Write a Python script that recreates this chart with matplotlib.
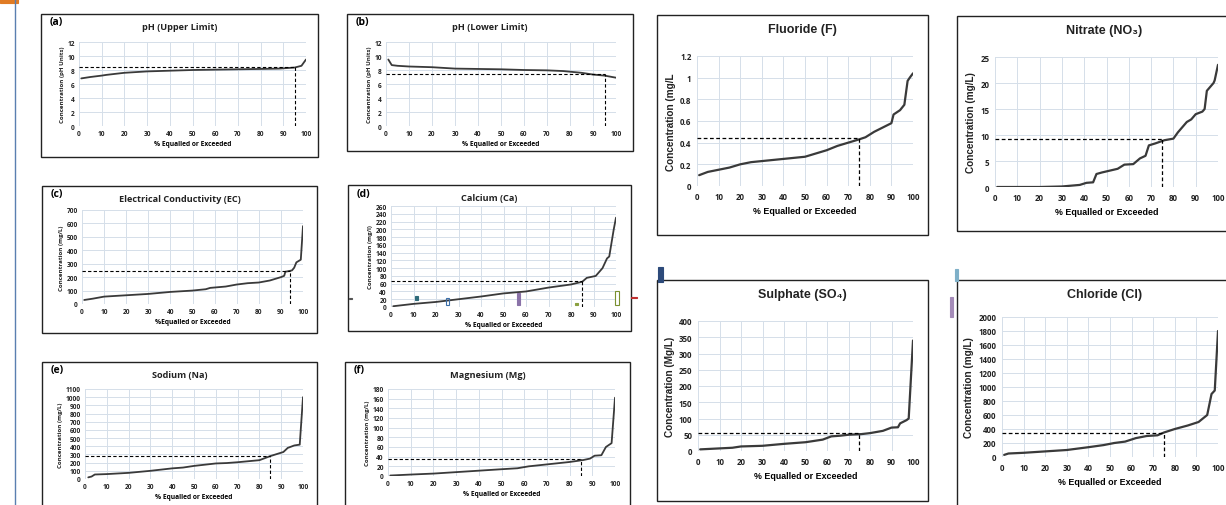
import matplotlib
matplotlib.use("Agg")
import matplotlib.pyplot as plt
from matplotlib.patches import Rectangle

plt.rcParams['font.family'] = ['Open Sans', 'DejaVu Sans']

W, H = 1226, 506

# ---- data: % equalled or exceeded vs concentration ----
ph_up_x = [1, 5, 10, 12, 20, 30, 40, 50, 60, 70, 80, 88, 95, 98, 100]
ph_up_y = [6.8, 7.0, 7.2, 7.3, 7.6, 7.8, 7.9, 8.0, 8.05, 8.1, 8.15, 8.2, 8.35, 8.6, 9.5]

ph_lo_x = [1, 2.5, 5, 10, 20, 30, 40, 50, 60, 70, 77, 85, 90, 95, 100]
ph_lo_y = [9.5, 8.7, 8.6, 8.5, 8.4, 8.2, 8.15, 8.1, 8.0, 7.95, 7.85, 7.6, 7.35, 7.2, 6.9]

ec_x = [1, 5, 10, 20, 30, 40, 50, 56, 58, 65, 70, 75, 80, 85, 90, 91.5, 92, 95, 96, 97, 99, 100]
ec_y = [30, 40, 55, 65, 75, 90, 100, 110, 120, 130, 145, 155, 160, 175, 200, 210, 240, 250, 270, 310, 330, 580]

ca_x = [1, 10, 20, 30, 40, 50, 60, 70, 80, 85, 87, 91, 94, 96, 97, 99, 100]
ca_y = [2, 8, 13, 20, 27, 35, 40, 50, 58, 65, 75, 80, 100, 125, 130, 200, 230]

na_x = [1.5, 3, 4.5, 10, 20, 30, 40, 45, 50, 55, 60, 65, 70, 80, 85, 91, 93, 96, 98.5, 100]
na_y = [20, 30, 55, 60, 75, 100, 130, 140, 160, 175, 190, 195, 205, 230, 280, 330, 380, 410, 420, 1000]

mg_x = [1, 10, 20, 30, 40, 50, 57, 62, 70, 80, 86, 89, 91, 94, 96, 98.5, 100]
mg_y = [1, 3, 5, 8, 11, 14, 16, 20, 24, 29, 33, 36, 42, 43, 60, 68, 162]

f_x = [1, 5, 10, 15, 20, 25, 30, 40, 50, 55, 60, 65, 70, 75, 78, 82, 87, 90, 91, 94, 96, 97.5, 98.5, 100]
f_y = [0.10, 0.13, 0.15, 0.17, 0.20, 0.22, 0.23, 0.25, 0.27, 0.30, 0.33, 0.37, 0.40, 0.43, 0.45, 0.50, 0.55, 0.58,
       0.66, 0.70, 0.75, 0.97, 1.00, 1.04]

no3_x = [1, 20, 30, 38, 41, 44, 45.5, 48, 52, 55, 58, 62, 65, 67.5, 69, 72, 76, 80, 82, 86, 88, 90, 93, 94, 95,
         98, 98.5, 100]
no3_y = [0, 0, 0.1, 0.4, 0.8, 0.9, 2.5, 2.8, 3.2, 3.5, 4.3, 4.4, 5.5, 6.0, 8.0, 8.4, 9.0, 9.3, 10.5, 12.5, 13.0,
         14.0, 14.5, 15.0, 18.5, 20.0, 20.5, 23.5]

so4_x = [1, 10, 16, 20, 30, 40, 50, 58, 62, 66, 70, 76, 80, 86, 90, 93, 94, 97, 98, 100]
so4_y = [5, 8, 10, 14, 16, 22, 27, 35, 45, 47, 50, 52, 55, 62, 72, 73, 85, 95, 100, 340]

cl_x = [1, 3, 10, 20, 30, 40, 47, 52, 57, 62, 67, 72, 75, 80, 86, 91, 93, 95, 97, 98.5, 100]
cl_y = [30, 50, 60, 80, 100, 140, 170, 200, 220, 270, 300, 310, 350, 400, 450, 500, 550, 600, 900, 950, 1800]

# dashed reference (percent, level)
ref_pct = {'a': 95, 'b': 95, 'c': 94, 'd': 85, 'e': 85, 'f': 85, 'F': 75, 'NO3': 75, 'SO4': 75, 'Cl': 75}
ref_val = {'a': 8.5, 'b': 7.4, 'c': 245, 'd': 68, 'e': 280, 'f': 35, 'F': 0.44, 'NO3': 9.2, 'SO4': 55, 'Cl': 350}

fig = plt.figure(figsize=(W / 100, H / 100), dpi=100)


def fx(px):
    return px / W


def fy(py):
    return 1 - py / H


def box(x0, y0, x1, y1, lw=1.0):
    fig.patches.append(Rectangle((fx(x0), fy(y1)), fx(x1 - x0), (y1 - y0) / H, transform=fig.transFigure,
                                 fill=False, edgecolor='#222222', linewidth=lw))


def mark(x0, y0, x1, y1, color, fill=True):
    fig.patches.append(Rectangle((fx(x0), fy(y1)), fx(x1 - x0), (y1 - y0) / H, transform=fig.transFigure,
                                 fill=fill, facecolor=color, edgecolor=color, linewidth=0.8))


def panel(key, pbox, plot, xs, ys, ymax, ystep, title, ylabel, xlabel='% Equalled or Exceeded',
          letter=None, big=False, yfmt=None):
    box(*pbox)
    x0, x1, yt, yb = plot
    ax = fig.add_axes([fx(x0), fy(yb), fx(x1 - x0), (yb - yt) / H])
    ax.plot(xs, ys, color='#3a3a3a', lw=1.6 if big else 1.3, solid_capstyle='round')
    p, v = ref_pct[key], ref_val[key]
    ax.plot([0, p], [v, v], color='black', lw=0.9 if big else 0.8, ls=(0, (3, 2)))
    ax.plot([p, p], [0, v], color='black', lw=0.9 if big else 0.8, ls=(0, (3, 2)))
    ax.set_xlim(0, 100)
    ax.set_ylim(0, ymax)
    ax.set_xticks(range(0, 101, 10))
    yt_vals = [i * ystep for i in range(int(round(ymax / ystep)) + 1)]
    ax.set_yticks(yt_vals)
    if yfmt:
        ax.set_yticklabels([yfmt(t) for t in yt_vals])
    ax.grid(True, color='#d5dfe9', lw=0.7)
    ax.set_axisbelow(True)
    for s in ax.spines.values():
        s.set_visible(False)
    tfs = 5.7 if big else 4.7
    ax.tick_params(length=0, labelsize=tfs, pad=4 if big else 3, colors='#222222')
    for lab in ax.get_xticklabels() + ax.get_yticklabels():
        lab.set_fontweight('bold')
    fam = ['Liberation Sans Narrow', 'Liberation Sans', 'DejaVu Sans'] if big else ['Open Sans', 'DejaVu Sans']
    ax.set_xlabel(xlabel, fontsize=6.4 if big else 4.8, fontweight='bold', family=fam, labelpad=4 if big else 2)
    ax.set_ylabel(ylabel, fontsize=7.2 if big else 4.4, fontweight='bold', family=fam, labelpad=3 if big else 2,
                  color='#222222')
    bx0, by0, bx1, by1 = pbox
    fig.text(fx((bx0 + bx1) / 2 + (10 if big else 0)), fy(by0 + (14 if big else 13)), title,
             fontsize=9 if big else 6.6, fontweight='bold', family=fam, ha='center', va='center',
             color='#222222')
    if letter:
        fig.text(fx(bx0 + 9), fy(by0 + 8), letter, fontsize=7.5, fontweight='bold', ha='left', va='center')
    return ax


panel('a', (41, 15, 318, 158), (79, 306, 43, 127), ph_up_x, ph_up_y, 12, 2, 'pH (Upper Limit)',
      'Concentration (pH Units)', letter='(a)')
panel('b', (347, 15, 633, 152), (386, 616, 43, 127), ph_lo_x, ph_lo_y, 12, 2, 'pH (Lower Limit)',
      'Concentration (pH Units)', letter='(b)')
panel('c', (42, 187, 317, 334), (82, 303, 211, 305), ec_x, ec_y, 700, 100, 'Electrical Conductivity (EC)',
      'Concentration (mg/L)', xlabel='%Equalled or Exceeded', letter='(c)')
panel('d', (348, 186, 631, 332), (391, 616, 207, 308), ca_x, ca_y, 260, 20, 'Calcium (Ca)',
      'Concentration (mg/l)', letter='(d)')
panel('e', (42, 363, 317, 512), (85, 303, 390, 480), na_x, na_y, 1100, 100, 'Sodium (Na)',
      'Concentration (mg/L)', letter='(e)')
panel('f', (345, 363, 630, 512), (388, 615, 390, 477), mg_x, mg_y, 180, 20, 'Magnesium (Mg)',
      'Concentration (mg/L)', letter='(f)')

panel('F', (657, 16, 928, 236), (697, 913, 57, 187), f_x, f_y, 1.2, 0.2, 'Fluoride (F)',
      'Concentration (mg/L', big=True, yfmt=lambda t: f'{t:.1f}'.rstrip('0').rstrip('.'))
panel('NO3', (957, 17, 1232, 232), (995, 1218, 58, 188), no3_x, no3_y, 25, 5, 'Nitrate (NO₃)',
      'Concentration (mg/L)', big=True)
panel('SO4', (657, 281, 928, 502), (698, 913, 322, 452), so4_x, so4_y, 400, 50, 'Sulphate (SO₄)',
      'Concentration (Mg/L)', big=True)
panel('Cl', (957, 281, 1232, 512), (1002, 1218, 318, 458), cl_x, cl_y, 2000, 200, 'Chloride (Cl)',
      'Concentration (mg/L)', big=True)

# page furniture / stray marks from the source page
mark(0, 0, 18, 4, '#e07b24')
fig.add_artist(plt.Line2D([fx(15), fx(15)], [0, 1], transform=fig.transFigure, color='#5a7fb0', lw=1.0))
mark(658, 268, 663, 283, '#2d4a7a')
mark(955, 270, 958, 282, '#7fb0c8')
mark(950, 298, 953, 318, '#a48bb8')
mark(415, 297, 418, 301, '#2f6b7a')
mark(446, 299, 449, 306, '#3b6ea8', fill=False)
mark(517, 294, 520, 306, '#8a72a8')
mark(575, 304, 578, 306, '#8aa040')
mark(615, 292, 619, 306, '#7a9030', fill=False)
mark(631, 298, 637, 299, '#c03030')
mark(349, 299, 352, 300, '#555555')

fig.savefig('out.png', dpi=100)
